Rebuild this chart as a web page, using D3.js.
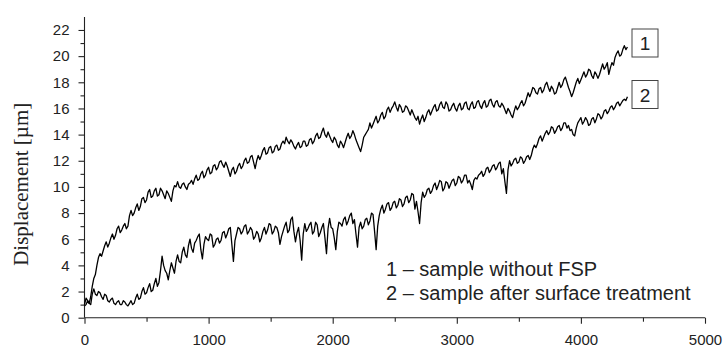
<!DOCTYPE html>
<html>
<head>
<meta charset="utf-8">
<script src="https://cdn.jsdelivr.net/npm/d3@7"></script>
<style>
  html, body { margin: 0; padding: 0; background: #fff; }
  svg { display: block; }
</style>
</head>
<body>
<svg id="chart" width="724" height="347"></svg>
<script>
// ---- Data ----
const timeStart = 0;       // first sample
const timeEnd = 4375;      // last sample (samples are evenly spaced)
const xTicks = [0, 1000, 2000, 3000, 4000, 5000];
const xMinorTicks = [500, 1500, 2500, 3500, 4500];
const yTicks = [0, 2, 4, 6, 8, 10, 12, 14, 16, 18, 20, 22];
const yMinorTicks = [1, 3, 5, 7, 9, 11, 13, 15, 17, 19, 21];

// Curve 1 – sample without FSP
const series1 = [
  0.9, 1.0, 1.3, 1.1, 1.6, 2.4, 3.0, 3.3, 4.0, 4.6, 4.9, 4.7, 5.1, 5.5, 5.8, 5.4, 5.7, 6.1, 6.4, 6.0,
  6.3, 6.8, 7.0, 6.5, 6.7, 7.0, 7.2, 6.8, 7.0, 7.8, 8.2, 7.8, 8.0, 8.4, 8.7, 8.2, 8.5, 9.1, 9.2, 8.8,
  9.0, 9.6, 9.8, 9.2, 9.3, 9.7, 9.9, 9.3, 9.4, 9.9, 9.7, 9.4, 9.1, 9.7, 9.5, 9.2, 8.9, 9.7, 10.1, 10.0,
  10.4, 10.0, 9.9, 10.2, 10.3, 10.0, 9.8, 10.2, 10.3, 10.5, 10.2, 10.6, 10.9, 10.5, 10.6, 11.0, 11.2, 10.7, 10.9, 11.3,
  11.5, 11.0, 11.1, 11.6, 11.7, 11.3, 11.5, 11.9, 12.0, 11.7, 11.5, 11.9, 11.6, 11.2, 10.8, 11.3, 11.5, 11.0, 11.2, 11.6,
  11.8, 11.4, 11.6, 12.0, 12.2, 11.8, 11.9, 12.3, 12.4, 11.9, 11.4, 12.0, 12.4, 12.1, 12.4, 12.8, 13.0, 12.5, 12.6, 13.0,
  13.1, 12.6, 12.7, 13.1, 13.2, 12.8, 12.9, 13.3, 13.5, 13.3, 13.8, 13.5, 13.3, 13.6, 13.4, 13.1, 12.9, 13.2, 13.4, 13.0,
  13.1, 13.5, 13.5, 13.1, 13.2, 13.6, 13.7, 13.3, 13.5, 13.9, 14.1, 13.7, 13.8, 14.2, 14.5, 14.0, 13.8, 14.2, 13.9, 13.6,
  13.4, 13.8, 13.6, 13.2, 13.0, 13.5, 13.3, 13.0, 13.4, 13.8, 14.1, 13.7, 13.9, 14.3, 14.0, 13.6, 13.3, 13.0, 12.7, 13.2,
  13.8, 14.0, 14.2, 14.4, 14.9, 14.5, 14.8, 15.1, 15.4, 14.9, 15.1, 15.5, 15.7, 15.2, 15.4, 15.9, 16.1, 15.7, 16.0, 16.2,
  16.5, 16.1, 15.8, 16.3, 16.1, 15.7, 15.8, 16.2, 16.1, 15.8, 15.5, 15.9, 15.6, 15.3, 15.1, 15.4, 14.8, 15.2, 15.5, 15.0,
  15.3, 15.7, 15.9, 15.5, 15.8, 16.1, 16.3, 15.8, 15.9, 16.3, 16.5, 16.1, 16.0, 16.5, 16.3, 15.8, 15.9, 16.2, 16.4, 16.0,
  15.8, 16.2, 16.4, 15.9, 16.0, 16.4, 16.5, 16.0, 15.9, 16.3, 16.5, 16.0, 16.1, 16.5, 16.6, 16.2, 16.0, 16.4, 16.6, 16.1,
  16.2, 16.6, 16.7, 16.3, 16.1, 16.5, 16.6, 16.2, 16.1, 16.4, 16.2, 15.9, 15.6, 16.0, 15.8, 15.5, 15.3, 15.8, 16.2, 15.9,
  16.1, 16.4, 16.6, 16.2, 16.4, 16.8, 17.2, 16.9, 17.2, 17.6, 17.5, 17.2, 17.1, 17.5, 17.6, 17.2, 17.4, 17.8, 18.0, 17.6,
  17.3, 17.7, 17.5, 17.1, 17.2, 17.6, 18.0, 17.6, 17.8, 18.2, 18.4, 18.0, 17.6, 17.3, 16.9, 17.2, 17.6, 18.0, 18.3, 17.9,
  18.2, 18.5, 18.8, 18.4, 18.6, 19.0, 18.9, 18.5, 18.3, 18.8, 18.6, 18.3, 18.6, 19.0, 19.4, 19.0, 19.2, 19.5, 18.6, 19.1,
  19.5, 19.3, 19.9, 20.2, 20.4, 20.0, 20.1, 20.5, 20.8, 20.5, 20.7
];

// Curve 2 – sample after surface treatment
const series2 = [
  1.0, 1.5, 1.3, 1.1, 1.0, 1.8, 2.2, 1.8, 1.7, 2.0, 1.9, 1.6, 1.4, 1.8, 1.7, 1.3, 1.2, 1.4, 1.5, 1.1,
  1.0, 1.2, 1.3, 1.0, 1.0, 1.3, 1.2, 1.0, 0.9, 1.1, 1.3, 1.0, 1.1, 1.5, 1.8, 1.4, 1.5, 2.0, 2.3, 1.8,
  1.9, 2.3, 2.6, 2.0, 2.1, 2.6, 3.0, 2.4, 2.7, 3.6, 4.7, 4.0, 3.6, 3.4, 2.9, 3.6, 4.2, 3.8, 3.4, 4.3,
  4.8, 4.3, 4.2, 5.0, 5.4, 4.8, 4.6, 5.5, 6.0, 5.3, 5.0, 5.7, 5.9, 6.2, 6.4, 5.2, 4.5, 5.6, 6.2, 6.0,
  5.9, 6.4, 6.3, 5.4, 5.6, 6.0, 6.1, 5.7, 5.9, 6.5, 6.6, 6.1, 6.4, 6.8, 6.9, 5.6, 4.3, 5.9, 6.4, 6.9,
  6.8, 6.4, 6.6, 7.0, 7.1, 6.4, 6.6, 6.9, 6.7, 6.0, 6.2, 6.6, 6.4, 5.8, 6.1, 6.6, 6.9, 6.4, 6.7, 7.2,
  7.1, 6.4, 6.6, 7.0, 6.9, 6.5, 5.6, 6.2, 6.6, 7.0, 7.3, 6.5, 6.7, 7.5, 7.7, 6.6, 5.8, 6.5, 6.9, 5.9,
  4.4, 6.4, 7.2, 6.6, 6.8, 7.1, 7.3, 6.4, 6.6, 7.3, 7.1, 6.2, 6.5, 6.9, 7.2, 6.1, 4.9, 6.8, 7.6, 6.9,
  6.8, 6.1, 5.2, 6.6, 7.3, 7.2, 7.0, 7.5, 7.7, 7.1, 7.4, 7.8, 8.0, 7.2, 7.5, 6.4, 5.4, 6.9, 7.3, 6.8,
  7.0, 7.5, 7.6, 7.1, 7.4, 8.0, 7.9, 6.6, 5.2, 7.0, 7.8, 8.3, 8.6, 8.0, 8.3, 8.7, 8.8, 8.2, 8.4, 8.8,
  8.9, 8.4, 8.6, 9.1, 9.0, 8.5, 8.7, 9.2, 9.3, 8.8, 9.0, 9.5, 9.4, 8.3, 8.9, 8.1, 7.2, 8.8, 9.6, 9.2,
  9.4, 9.8, 9.9, 9.5, 9.7, 10.1, 10.3, 9.8, 10.1, 10.5, 10.4, 9.7, 9.9, 10.4, 10.3, 9.9, 10.2, 10.5, 10.6, 10.1,
  10.3, 10.8, 10.7, 10.3, 10.5, 10.9, 10.9, 10.3, 10.5, 10.2, 9.8, 10.5, 10.7, 10.6, 10.9, 11.0, 11.2, 10.8, 11.0, 11.4,
  11.5, 11.1, 11.3, 11.6, 11.7, 11.3, 11.5, 11.8, 11.9, 11.0, 11.4, 10.4, 9.5, 11.3, 12.0, 11.6, 11.8, 12.1, 12.2, 11.8,
  11.9, 12.3, 12.2, 11.8, 12.0, 12.3, 12.4, 12.1, 12.4, 12.9, 13.2, 13.0, 13.3, 13.7, 13.9, 13.5, 13.8, 14.1, 14.3, 14.0,
  14.2, 14.6, 14.5, 14.1, 14.3, 14.6, 14.7, 14.3, 14.5, 14.9, 14.9, 14.5, 14.7, 14.3, 14.4, 14.0, 13.9, 14.5, 14.9, 15.1,
  15.3, 14.8, 15.0, 15.3, 15.1, 14.7, 14.8, 15.2, 15.3, 14.9, 15.2, 15.6, 15.5, 15.2, 15.4, 15.8, 15.9, 15.6, 15.8, 16.1,
  16.2, 15.9, 16.1, 16.4, 16.5, 16.2, 16.4, 16.6, 16.7, 16.6, 16.9
];

const curveLabels = ["1", "2"];
const legendLines = ["1 \u2013 sample without FSP", "2 \u2013 sample after surface treatment"];
const yTitle = "Displacement [\u00b5m]";

// ---- Drawing ----
const svg = d3.select("#chart");
const x = d3.scaleLinear().domain([0, 5000]).range([84.5, 705]);
const y = d3.scaleLinear().domain([0, 23]).range([317.7, 16.9]);

const axisColor = "#222";
const textColor = "#222";

// Axes
const xAxis = svg.append("g").attr("transform", `translate(0,${y(0)})`)
  .call(d3.axisBottom(x).tickValues(xTicks).tickSize(6).tickPadding(11).tickFormat(d3.format("d")));
svg.append("g").attr("class", "minor").attr("transform", `translate(0,${y(0)})`)
  .call(d3.axisBottom(x).tickValues(xMinorTicks).tickSize(4).tickFormat(""))
  .call(g => g.select(".domain").remove());

const yAxis = svg.append("g").attr("transform", `translate(${x(0)},0)`)
  .call(d3.axisLeft(y).tickValues(yTicks).tickSize(6).tickPadding(9).tickFormat(d3.format("d")));
svg.append("g").attr("class", "minor").attr("transform", `translate(${x(0)},0)`)
  .call(d3.axisLeft(y).tickValues(yMinorTicks).tickSize(4).tickFormat(""))
  .call(g => g.select(".domain").remove());

xAxis.select(".domain").attr("d", `M${x(0)},0H${x(5000)}`);
yAxis.select(".domain").attr("d", `M0,${y(0)}V${y(23)}`);

svg.selectAll(".tick line, .domain").attr("stroke", axisColor).attr("stroke-width", 1.1);
svg.selectAll(".tick text")
  .attr("fill", textColor)
  .style("font-family", "'Liberation Sans', Arial, sans-serif")
  .style("font-size", "15px");

// Y title
svg.append("text")
  .attr("transform", `translate(28,${(y(0) + y(23)) / 2 + 17}) rotate(-90)`)
  .attr("text-anchor", "middle")
  .style("font-family", "'Liberation Serif', 'Times New Roman', serif")
  .style("font-size", "21px")
  .attr("fill", textColor)
  .text(yTitle);

// Lines
function sampleX(s, i) {
  return timeStart + i * (timeEnd - timeStart) / (s.length - 1);
}
[series1, series2].forEach(s => {
  const line = d3.line()
    .x((d, i) => x(sampleX(s, i)))
    .y(d => y(d));
  svg.append("path")
    .datum(s)
    .attr("fill", "none")
    .attr("stroke", "#000")
    .attr("stroke-width", 1.3)
    .attr("stroke-linejoin", "round")
    .attr("d", line);
});

// Curve labels in boxes
[0, 1].forEach(k => {
  const bx = 632, bw = 26, bh = 28;
  const by = k === 0 ? 29 : 80.5;
  svg.append("rect")
    .attr("x", bx).attr("y", by).attr("width", bw).attr("height", bh)
    .attr("fill", "none").attr("stroke", "#444").attr("stroke-width", 1);
  svg.append("text")
    .attr("x", bx + bw / 2).attr("y", by + bh / 2 + 7)
    .attr("text-anchor", "middle")
    .style("font-family", "'Liberation Sans', Arial, sans-serif")
    .style("font-size", "19px")
    .attr("fill", textColor)
    .text(curveLabels[k]);
});

// Legend text
legendLines.forEach((t, k) => {
  svg.append("text")
    .attr("x", 386).attr("y", 275.5 + k * 24.5)
    .style("font-family", "'Liberation Sans', Arial, sans-serif")
    .style("font-size", "20px")
    .attr("fill", textColor)
    .text(t);
});
</script>
</body>
</html>
